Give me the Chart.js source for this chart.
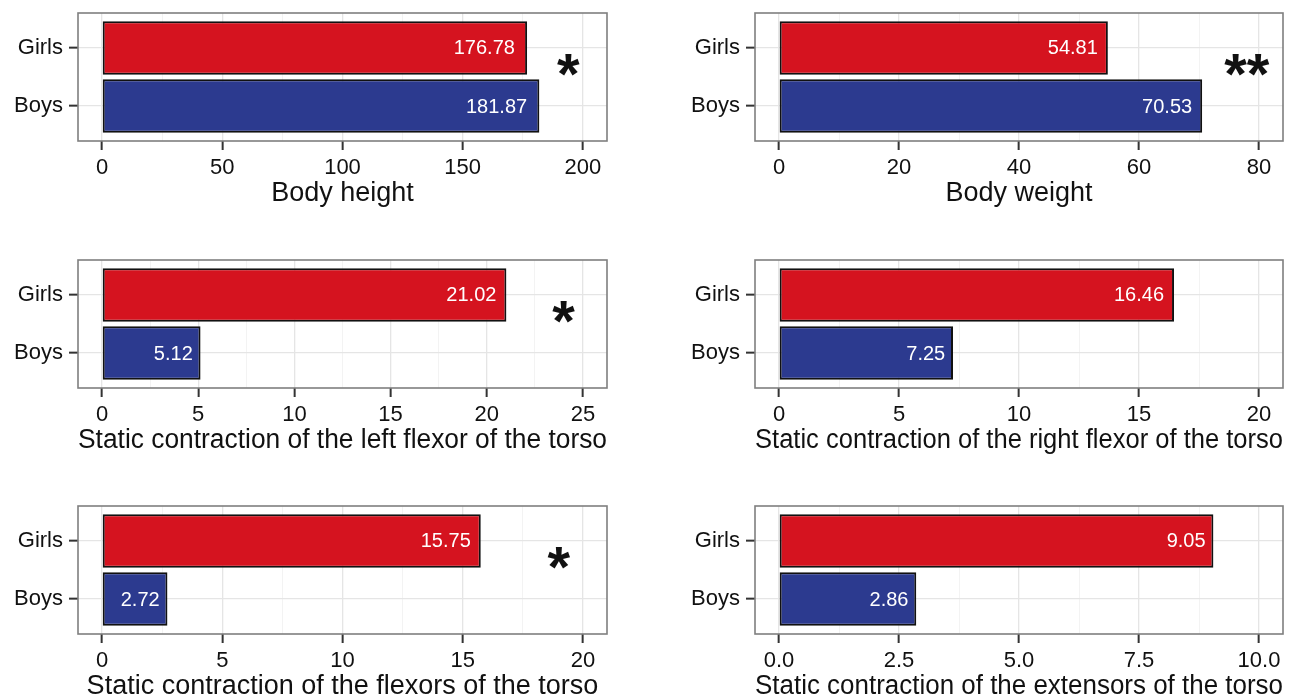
<!DOCTYPE html>
<html><head><meta charset="utf-8">
<script src="https://cdn.jsdelivr.net/npm/chart.js@4/dist/chart.umd.min.js"></script>
<style>
html,body{margin:0;padding:0;background:#fff;width:1303px;height:698px;overflow:hidden;position:relative;}
canvas{position:absolute;}
</style></head><body>
<canvas id="c0"></canvas><canvas id="c1"></canvas><canvas id="c2"></canvas>
<canvas id="c3"></canvas><canvas id="c4"></canvas><canvas id="c5"></canvas>
<script>
// ---------- data ----------
const categories = ['Girls', 'Boys'];
const titles = [
  'Body height',
  'Body weight',
  'Static contraction of the left flexor of the torso',
  'Static contraction of the right flexor of the torso',
  'Static contraction of the flexors of the torso',
  'Static contraction of the extensors of the torso'
];
const girlsValues = [176.78, 54.81, 21.02, 16.46, 15.75, 9.05];
const boysValues  = [181.87, 70.53, 5.12, 7.25, 2.72, 2.86];
const tickValues = [
  [0, 50, 100, 150, 200],
  [0, 20, 40, 60, 80],
  [0, 5, 10, 15, 20, 25],
  [0, 5, 10, 15, 20],
  [0, 5, 10, 15, 20],
  [0, 2.5, 5, 7.5, 10]
];
const tickLabels = [
  ['0', '50', '100', '150', '200'],
  ['0', '20', '40', '60', '80'],
  ['0', '5', '10', '15', '20', '25'],
  ['0', '5', '10', '15', '20'],
  ['0', '5', '10', '15', '20'],
  ['0.0', '2.5', '5.0', '7.5', '10.0']
];
const axisMin = [-10, -4, -1.25, -1, -1, -0.5];
const axisMax = [210, 84, 26.25, 21, 21, 10.5];
const sigLabels = ['*', '**', '*', '', '*', ''];
const sigX = [194, 78, 24, null, 19, null];

// ---------- styling / layout ----------
const FONT = '"Liberation Sans", Arial, Helvetica, sans-serif';
const RED = '#D5131F';
const BLUE = '#2C3A8F';
const MAJOR = '#E5E5E5';
const MINOR = '#F3F3F3';
const COLS = [
  { left: 0,   width: 640, yAxisW: 78,  padRight: 33 },
  { left: 650, width: 653, yAxisW: 105, padRight: 20 }
];
const ROW_TOPS = [0, 247, 493];
const CANVAS_H = 230, PAD_TOP = 13, BOX_H = 128;
const X_AXIS_H = CANVAS_H - PAD_TOP - BOX_H;

Chart.defaults.font.family = FONT;

const panelPlugin = {
  id: 'panelDeco',
  afterDatasetsDraw(chart) {
    const o = chart.options.plugins.panelDeco;
    const ctx = chart.ctx;
    const meta = chart.getDatasetMeta(0);
    const ds = chart.data.datasets[0];
    ctx.save();
    // value labels inside bars
    ctx.font = '20px ' + FONT;
    ctx.fillStyle = '#ffffff';
    ctx.textBaseline = 'middle';
    ctx.textAlign = 'left';
    meta.data.forEach((bar, i) => {
      const txt = ds.data[i].x.toFixed(2);
      const w = ctx.measureText(txt).width;
      ctx.fillText(txt, bar.x - 1.2 * w, bar.y + 1);
    });
    // significance marks
    if (o.sig) {
      ctx.font = 'bold 58px ' + FONT;
      ctx.fillStyle = '#111111';
      ctx.textAlign = 'left';
      ctx.textBaseline = 'alphabetic';
      const m = ctx.measureText(o.sig);
      const inkW = m.actualBoundingBoxLeft + m.actualBoundingBoxRight;
      const inkH = m.actualBoundingBoxAscent + m.actualBoundingBoxDescent;
      const cx = chart.scales.x.getPixelForValue(o.sigX);
      const cy = chart.scales.y.getPixelForValue(1.30);
      ctx.fillText(o.sig, cx - inkW / 2 + m.actualBoundingBoxLeft,
                   cy - inkH / 2 + m.actualBoundingBoxAscent);
    }
    // panel border
    const a = chart.chartArea;
    ctx.strokeStyle = '#7F7F7F';
    ctx.lineWidth = 1.6;
    ctx.strokeRect(a.left, a.top, a.right - a.left, a.bottom - a.top);
    ctx.restore();
  }
};

function buildXTicks(p) {
  const v = tickValues[p];
  const out = v.map(t => ({ value: t, isMinor: false }));
  for (let i = 0; i < v.length - 1; i++) {
    out.push({ value: (v[i] + v[i + 1]) / 2, isMinor: true });
  }
  out.sort((a, b) => a.value - b.value);
  return out;
}

for (let p = 0; p < 6; p++) {
  const col = COLS[p % 2];
  const row = Math.floor(p / 2);
  const cv = document.getElementById('c' + p);
  cv.width = col.width;
  cv.height = CANVAS_H;
  cv.style.left = col.left + 'px';
  cv.style.top = ROW_TOPS[row] + 'px';

  const values = [girlsValues[p], boysValues[p]];
  new Chart(cv, {
    type: 'bar',
    data: {
      datasets: [{
        data: categories.map((c, i) => ({ x: values[i], y: i + 1 })),
        backgroundColor: [RED, BLUE],
        borderColor: '#111111',
        borderWidth: 2,
        borderSkipped: false,
        barPercentage: 0.92,
        categoryPercentage: 1.0
      }]
    },
    options: {
      indexAxis: 'y',
      responsive: false,
      animation: false,
      devicePixelRatio: 1,
      layout: { padding: { top: PAD_TOP, right: col.padRight, left: 0, bottom: 0 } },
      plugins: {
        legend: { display: false },
        tooltip: { enabled: false },
        panelDeco: { sig: sigLabels[p], sigX: sigX[p] }
      },
      scales: {
        x: {
          type: 'linear',
          min: axisMin[p],
          max: axisMax[p],
          afterBuildTicks: s => { s.ticks = buildXTicks(p); },
          afterFit: s => { s.height = X_AXIS_H; s.paddingLeft = 0; s.paddingRight = 0; },
          border: { display: false },
          grid: {
            color: c => (c.tick && c.tick.isMinor) ? MINOR : MAJOR,
            lineWidth: c => (c.tick && c.tick.isMinor) ? 1 : 1.3,
            tickColor: c => (c.tick && c.tick.isMinor) ? 'rgba(0,0,0,0)' : '#333333',
            tickWidth: 2,
            tickLength: 9,
            drawTicks: true
          },
          ticks: {
            autoSkip: false,
            maxRotation: 0,
            minRotation: 0,
            padding: 5,
            color: '#111111',
            font: { size: 22 },
            callback: (v) => {
              const k = tickValues[p].indexOf(v);
              return k >= 0 ? tickLabels[p][k] : '';
            }
          },
          title: {
            display: true,
            text: titles[p],
            color: '#111111',
            font: { size: 27 },
            padding: { top: 0, bottom: 20 }
          }
        },
        y: {
          type: 'linear',
          reverse: true,
          min: 0.4,
          max: 2.6,
          offset: false,
          afterBuildTicks: s => { s.ticks = categories.map((c, i) => ({ value: i + 1 })); },
          afterFit: s => { s.width = col.yAxisW; s.paddingTop = 0; s.paddingBottom = 0; },
          border: { display: false },
          grid: {
            offset: false,
            color: MAJOR,
            lineWidth: 1.3,
            tickColor: '#333333',
            tickWidth: 2,
            tickLength: 9
          },
          ticks: {
            autoSkip: false,
            padding: 6,
            color: '#111111',
            font: { size: 22 },
            callback: v => categories[Math.round(v) - 1]
          }
        }
      }
    },
    plugins: [panelPlugin]
  });
}
</script>
</body></html>
